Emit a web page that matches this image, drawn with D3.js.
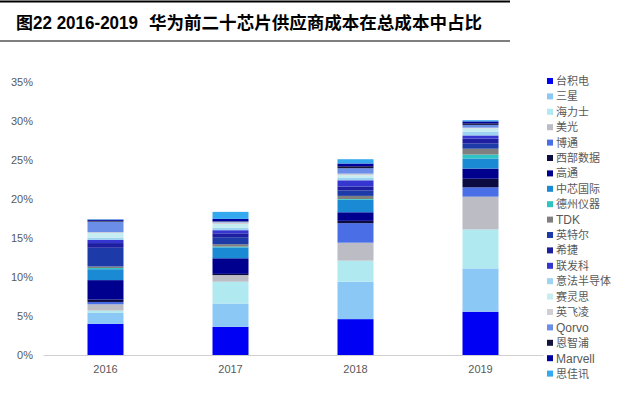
<!DOCTYPE html>
<html><head><meta charset="utf-8">
<script src="https://cdn.jsdelivr.net/npm/d3@7"></script>
<style>html,body{margin:0;padding:0;background:#fff;}svg{display:block;}</style>
</head><body>
<svg id="chart" width="640" height="410"></svg>
<script>
const years = ["2016","2017","2018","2019"];
const suppliers = ["台积电","三星","海力士","美光","博通","西部数据","高通","中芯国际","德州仪器","TDK","英特尔","希捷","联发科","意法半导体","赛灵思","英飞凌","Qorvo","恩智浦","Marvell","思佳讯"];
const colors = ["#0000F5","#8CC8F6","#B0E9EF","#BCBCC4","#4A6EE6","#0C0C40","#00008E","#1A8AD4","#2EC4C4","#7F7F7F","#1C3AA8","#1E1EA0","#3535D0","#9FD3F2","#C6EEF2","#CFCFD4","#6B8EE8","#14143A","#00009E","#35A9F0"];
// values in %, per supplier, for 2016..2019
const v2016 = [4.0,1.4,0.3,0.8,0.3,0.3,2.5,1.4,0.15,0.2,2.4,0.6,0.4,0.3,0.6,0.1,1.35,0.1,0.15,0.05];
const v2017 = [3.6,3.0,2.8,0.85,0.0,0.15,2.0,1.4,0.1,0.3,0.9,0.5,0.4,0.3,0.5,0.2,0.1,0.05,0.3,0.9];
const v2018 = [4.6,4.8,2.7,2.3,2.5,0.3,1.1,1.6,0.1,0.4,0.7,0.5,0.8,0.3,0.35,0.2,0.7,0.25,0.35,0.55];
const v2019 = [5.55,5.55,5.0,4.2,1.2,1.1,1.3,1.3,0.5,0.75,0.65,0.65,0.4,0.5,0.4,0.1,0.35,0.2,0.25,0.15];
const yTicks = [0,5,10,15,20,25,30,35];

const valuesByYear = [v2016,v2017,v2018,v2019];
const table = years.map((y,i)=>{
  const row = {year:y};
  suppliers.forEach((s,j)=>row[s]=valuesByYear[i][j]);
  return row;
});

const svg = d3.select("#chart");
const x = d3.scaleBand().domain(years).range([43,543]).paddingInner(0.712).paddingOuter(0.356);
const y = d3.scaleLinear().domain([0,35]).range([355,82]);
const color = d3.scaleOrdinal().domain(suppliers).range(colors);

// title & rules
svg.append("line").attr("x1",0).attr("x2",510).attr("y1",1.5).attr("y2",1.5).attr("stroke","#000").attr("stroke-width",2);
svg.append("line").attr("x1",0).attr("x2",510).attr("y1",41).attr("y2",41).attr("stroke","#000").attr("stroke-width",1.2);
const tf = "'Noto Sans CJK SC','Liberation Sans',sans-serif";
svg.append("text").attr("x",16).attr("y",29).attr("font-family",tf).attr("font-weight","bold").attr("font-size",17).attr("fill","#000").text("图");
svg.append("text").attr("x",33).attr("y",29).attr("font-family","'Liberation Sans',Arial,sans-serif").attr("font-weight","bold").attr("font-size",19)
  .attr("textLength",105).attr("lengthAdjust","spacingAndGlyphs").attr("fill","#000").text("22 2016-2019");
svg.append("text").attr("x",149).attr("y",29).attr("font-family",tf).attr("font-weight","bold").attr("font-size",17.5)
  .attr("textLength",333).attr("lengthAdjust","spacingAndGlyphs").attr("fill","#000").text("华为前二十芯片供应商成本在总成本中占比");

// stacked bars
const stacked = d3.stack().keys(suppliers)(table);
svg.append("g").selectAll("g").data(stacked).join("g")
  .attr("fill",d=>color(d.key))
  .selectAll("rect").data(d=>d).join("rect")
  .attr("x",d=>x(d.data.year))
  .attr("width",x.bandwidth())
  .attr("y",d=>y(d[1]))
  .attr("height",d=>Math.max(0,y(d[0])-y(d[1])));

// y axis labels
const yAxis = d3.axisLeft(y).tickValues(yTicks).tickFormat(d=>d+"%").tickSize(0).tickPadding(0);
const ga = svg.append("g").attr("transform","translate(33,0)").call(yAxis);
ga.select(".domain").remove();
ga.selectAll("text").attr("font-family","'Liberation Sans',Arial,sans-serif").attr("font-size",11).attr("fill","#595959");

// x axis
const xAxis = d3.axisBottom(x).tickSize(0).tickPadding(10);
const gx = svg.append("g").attr("transform","translate(0,355)").call(xAxis);
gx.select(".domain").attr("stroke","#D0D0D0").attr("stroke-width",1);
gx.selectAll("text").attr("font-family","'Liberation Sans',Arial,sans-serif").attr("font-size",11).attr("fill","#595959");

// legend
const lg = svg.append("g");
const items = lg.selectAll("g").data(suppliers).join("g")
  .attr("transform",(d,i)=>`translate(547,${81+i*15.4})`);
items.append("rect").attr("x",0).attr("y",-3).attr("width",6).attr("height",6).attr("fill",d=>color(d));
items.append("text").attr("x",9).attr("y",0).attr("dy","0.36em")
  .attr("font-family",d=>/^[A-Za-z]/.test(d)?"'Liberation Sans',Arial,sans-serif":"'Noto Sans CJK SC',sans-serif")
  .attr("font-size",d=>/^[A-Za-z]/.test(d)?12:11).attr("fill","#595959").text(d=>d);
</script>
</body></html>
